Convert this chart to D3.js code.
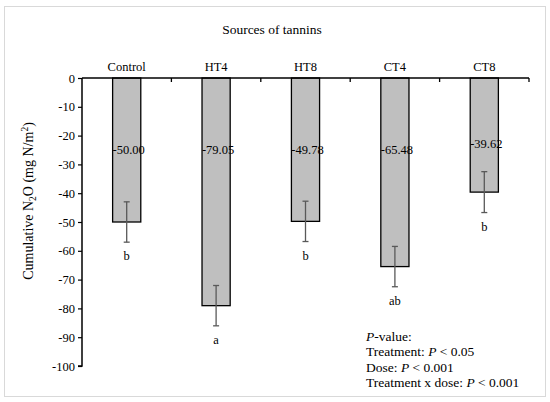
<!DOCTYPE html>
<html>
<head>
<meta charset="utf-8">
<script src="https://cdn.jsdelivr.net/npm/d3@7"></script>
<style>
  body { margin: 0; background: #fff; }
  svg text { font-family: 'Liberation Serif', 'Times New Roman', 'DejaVu Serif', serif !important; }
</style>
</head>
<body>
<div class="chart"></div>
<script>
const categories = ["Control", "HT4", "HT8", "CT4", "CT8"];
const values = [-50.00, -79.05, -49.78, -65.48, -39.62];
const errors = [7.0, 7.0, 7.0, 7.0, 7.1];
const letters = ["b", "a", "b", "ab", "b"];
const labelAt = [-25, -25, -25, -25, -23];
const yTicks = [0, -10, -20, -30, -40, -50, -60, -70, -80, -90, -100];
const pLines = [
  [["P", true], ["-value:", false]],
  [["Treatment: ", false], ["P", true], [" < 0.05", false]],
  [["Dose: ", false], ["P", true], [" < 0.001", false]],
  [["Treatment x dose: ", false], ["P", true], [" < 0.001", false]]
];

const width = 550, height = 402;
const margin = ({top: 78, right: 21, bottom: 35, left: 82});
const serif = "'Liberation Serif', 'Times New Roman', serif";

const svg = d3.select(".chart")
  .append("svg")
  .attr("width", width)
  .attr("height", height)
  .attr("font-family", serif);

svg.append("rect")
  .attr("x", 4.5).attr("y", 6.5)
  .attr("width", 541).attr("height", 390)
  .attr("fill", "#fff")
  .attr("stroke", "#d9d9d9");

const xScale = d3.scaleBand()
  .domain(categories)
  .range([margin.left, width - margin.right])
  .paddingInner(0.685)
  .paddingOuter(0.3425);

const yScale = d3.scaleLinear()
  .domain([0, -100])
  .range([margin.top, 366]);

// title
svg.append("text")
  .attr("x", 272).attr("y", 34)
  .attr("text-anchor", "middle")
  .attr("font-size", 13.5)
  .attr("fill", "#000")
  .text("Sources of tannins");

// bars
svg.selectAll(".bar")
  .data(categories)
  .enter()
  .append("rect")
  .attr("class", "bar")
  .attr("x", d => xScale(d))
  .attr("width", xScale.bandwidth())
  .attr("y", yScale(0))
  .attr("height", (d, i) => yScale(values[i]) - yScale(0))
  .attr("fill", "#bfbfbf")
  .attr("stroke", "#000")
  .attr("stroke-width", 1.3);

// y axis
const yAxis = d3.axisLeft(yScale)
  .tickValues(yTicks)
  .tickSize(4)
  .tickPadding(3)
  .tickFormat(d3.format("d"));

const gy = svg.append("g")
  .attr("transform", `translate(${margin.left},0)`)
  .call(yAxis)
  .attr("font-family", serif)
  .attr("font-size", 12.5);
gy.select(".domain").attr("stroke-width", 1.5).attr("d", `M-4,${yScale(-100)}H0V${yScale(0)}`);
gy.selectAll(".tick line").attr("stroke-width", 1.2);
gy.selectAll(".tick text")
  .attr("fill", "#000")
  .text(d => d === 0 ? "0" : "-" + Math.abs(d));

// x axis on top (zero line) with ticks between categories
const xEdges = d3.scaleLinear().domain([0, categories.length]).range([margin.left, width - margin.right]);
const gx = svg.append("g");
gx.append("line")
  .attr("x1", margin.left).attr("x2", width - margin.right)
  .attr("y1", yScale(0)).attr("y2", yScale(0))
  .attr("stroke", "#000").attr("stroke-width", 1.5);
gx.selectAll(".xt")
  .data(d3.range(1, categories.length + 1))
  .enter()
  .append("line")
  .attr("x1", d => xEdges(d)).attr("x2", d => xEdges(d))
  .attr("y1", yScale(0)).attr("y2", yScale(0) + 4)
  .attr("stroke", "#000").attr("stroke-width", 1.3);

gx.selectAll(".cat")
  .data(categories)
  .enter()
  .append("text")
  .attr("x", d => xScale(d) + xScale.bandwidth() / 2)
  .attr("y", yScale(0) - 7)
  .attr("text-anchor", "middle")
  .attr("font-size", 12.5)
  .attr("fill", "#000")
  .text(d => d);

// error bars
const eb = svg.selectAll(".err")
  .data(categories)
  .enter()
  .append("g")
  .attr("stroke", "#595959")
  .attr("stroke-width", 1.3);
const cx = d => xScale(d) + xScale.bandwidth() / 2;
eb.append("line")
  .attr("x1", cx).attr("x2", cx)
  .attr("y1", (d, i) => yScale(values[i] + errors[i]))
  .attr("y2", (d, i) => yScale(values[i] - errors[i]));
eb.append("line")
  .attr("x1", d => cx(d) - 3).attr("x2", d => cx(d) + 3)
  .attr("y1", (d, i) => yScale(values[i] + errors[i]))
  .attr("y2", (d, i) => yScale(values[i] + errors[i]));
eb.append("line")
  .attr("x1", d => cx(d) - 3).attr("x2", d => cx(d) + 3)
  .attr("y1", (d, i) => yScale(values[i] - errors[i]))
  .attr("y2", (d, i) => yScale(values[i] - errors[i]));

// value labels
svg.selectAll(".val")
  .data(categories)
  .enter()
  .append("text")
  .attr("x", d => cx(d) + 2)
  .attr("y", (d, i) => yScale(labelAt[i]) + 4)
  .attr("text-anchor", "middle")
  .attr("font-size", 12.5)
  .attr("fill", "#000")
  .text((d, i) => values[i].toFixed(2));

// significance letters
svg.selectAll(".let")
  .data(categories)
  .enter()
  .append("text")
  .attr("x", cx)
  .attr("y", (d, i) => yScale(values[i] - errors[i]) + 18)
  .attr("text-anchor", "middle")
  .attr("font-size", 12.5)
  .attr("fill", "#000")
  .text((d, i) => letters[i]);

// y label
const yl = svg.append("text")
  .attr("transform", "translate(33,201) rotate(-90)")
  .attr("text-anchor", "middle")
  .attr("font-size", 14)
  .attr("fill", "#000");
yl.append("tspan").text("Cumulative N");
yl.append("tspan").attr("font-size", 9.5).attr("dy", 3).text("2");
yl.append("tspan").attr("dy", -3).text("O (mg N/m");
yl.append("tspan").attr("font-size", 9.5).attr("dy", -5).text("2");
yl.append("tspan").attr("dy", 5).text(")");

// p-value note
const note = svg.append("g");
pLines.forEach((parts, i) => {
  const t = note.append("text")
    .attr("x", 366)
    .attr("y", 341 + i * 15.3)
    .attr("font-size", 13.5)
    .attr("fill", "#000");
  parts.forEach(p => {
    t.append("tspan")
      .attr("font-style", p[1] ? "italic" : "normal")
      .text(p[0]);
  });
});
</script>
</body>
</html>
